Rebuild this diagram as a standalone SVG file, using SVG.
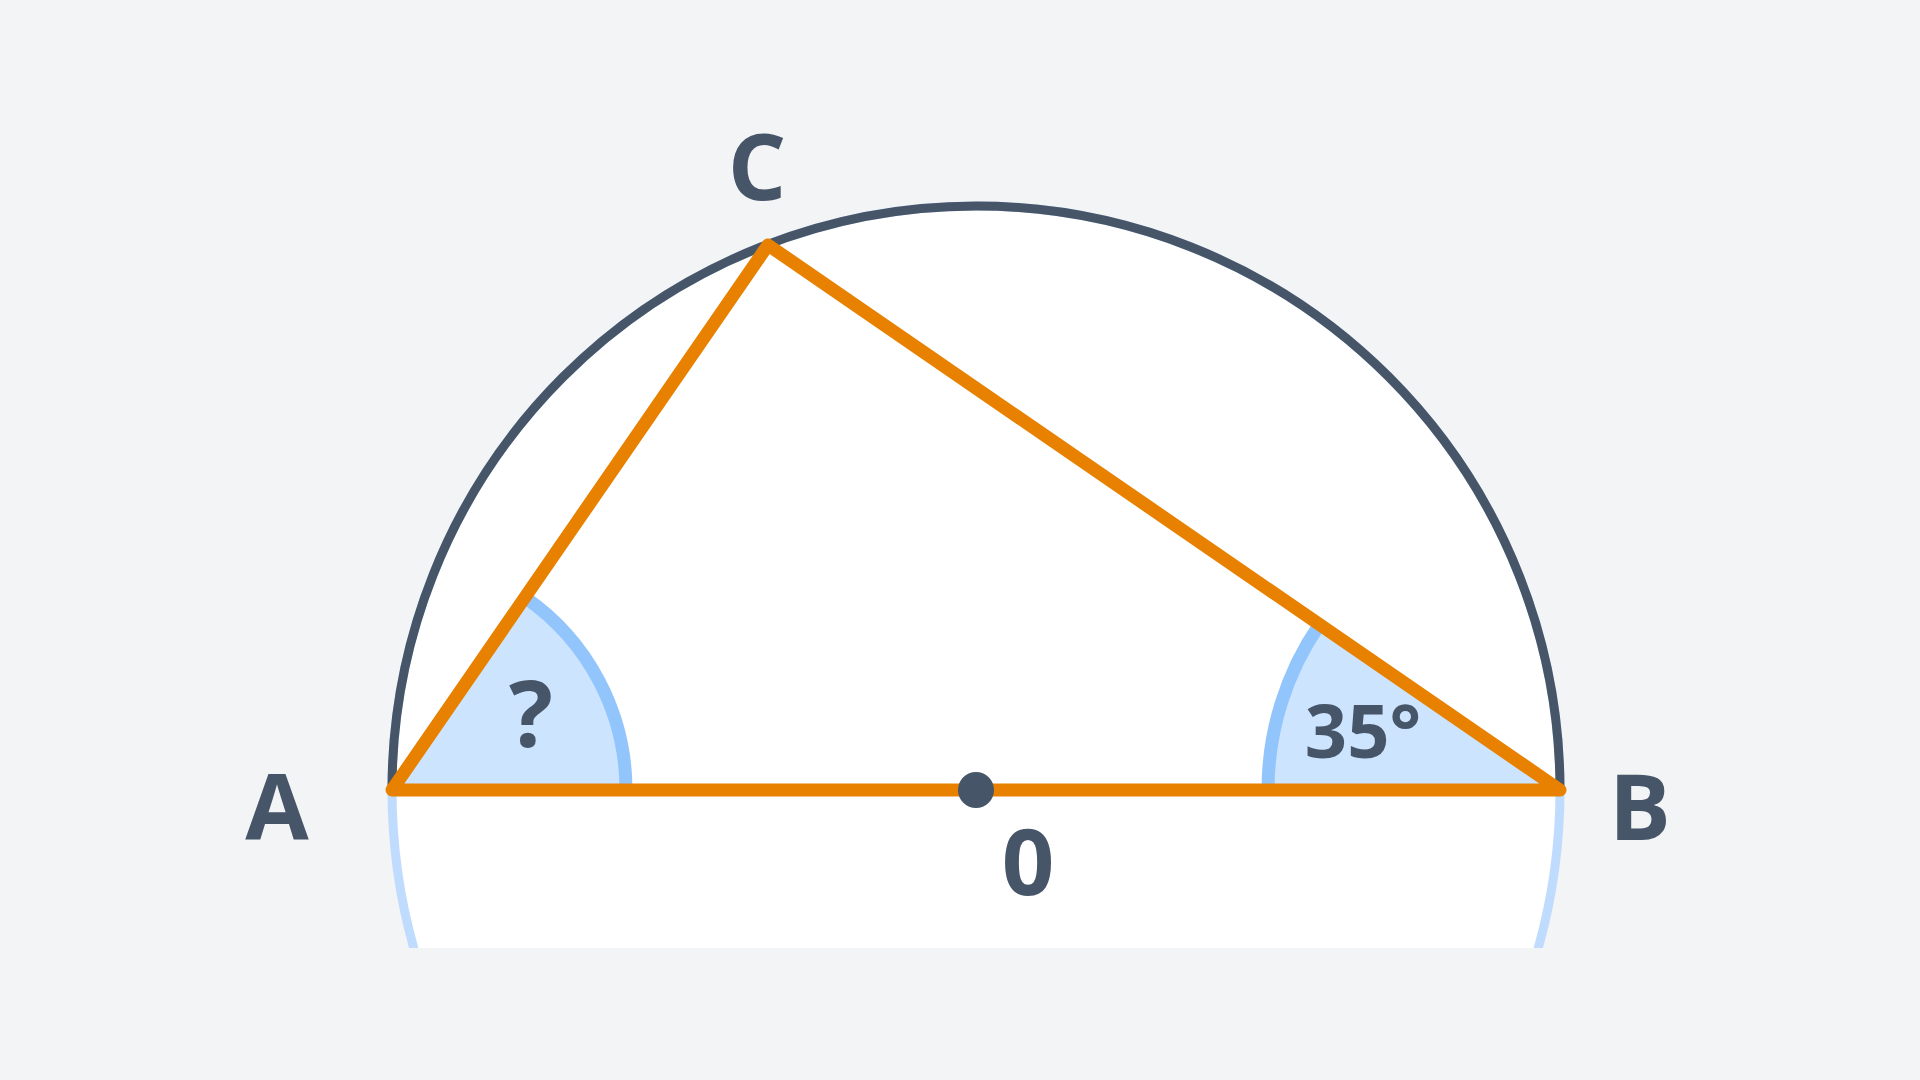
<svg xmlns="http://www.w3.org/2000/svg" width="1920" height="1080" viewBox="0 0 1920 1080">
  <defs>
    <clipPath id="clipBottom">
      <rect x="0" y="0" width="1920" height="948"/>
    </clipPath>
    <style>
      .label { font-family: "Open Sans", "Noto Sans", "DejaVu Sans", sans-serif; font-weight: 700; fill: #475569; text-anchor: middle; }
      .sectorFill { fill: #cce4fd; stroke: none; }
      .sectorArc { fill: none; stroke: #93c5fd; stroke-width: 13; }
      .tri { fill: none; stroke: #e88000; stroke-width: 13; stroke-linejoin: round; stroke-linecap: round; }
    </style>
  </defs>
  <rect x="0" y="0" width="1920" height="1080" fill="#f3f4f6"/>

  <g id="circle" clip-path="url(#clipBottom)">
    <circle cx="976" cy="790" r="584" fill="#ffffff" stroke="#bfdbfe" stroke-width="9"/>
    <path d="M392,790 A584,584 0 0 1 1560,790" fill="none" stroke="#475569" stroke-width="9"/>
  </g>

  <g id="angle-A">
    <path class="sectorFill" d="M392,790 L626,790 A234,234 0 0 0 524.9,597.4 Z"/>
    <path class="sectorArc" d="M626,790 A234,234 0 0 0 524.9,597.4"/>
  </g>

  <g id="angle-B">
    <path class="sectorFill" d="M1560,790 L1268,790 A292,292 0 0 1 1319.5,624.5 Z"/>
    <path class="sectorArc" d="M1268,790 A292,292 0 0 1 1319.5,624.5"/>
  </g>

  <g id="connectors">
    <path class="tri" d="M392,790 L768,245 L1560,790 Z"/>
  </g>

  <g id="node-O">
    <circle cx="976" cy="790" r="18" fill="#475569"/>
    <text class="label" x="1028" y="895" font-size="92">0</text>
  </g>
  <g id="node-A">
    <text class="label" x="277" y="840" font-size="92">A</text>
  </g>
  <g id="node-B">
    <text class="label" x="1640" y="840" font-size="92">B</text>
  </g>
  <g id="node-C">
    <text class="label" x="757" y="200" font-size="92">C</text>
  </g>
  <g id="label-unknown">
    <text class="label" x="531" y="747" font-size="92">?</text>
  </g>
  <g id="label-35">
    <text class="label" x="1363" y="758" font-size="74">35°</text>
  </g>
</svg>
